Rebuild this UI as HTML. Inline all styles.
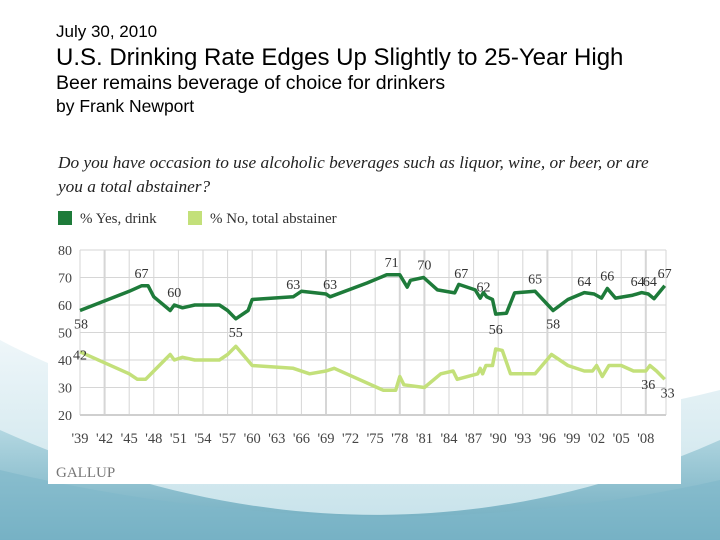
<!DOCTYPE html>
<html><head><meta charset="utf-8"><style>
body{margin:0;width:720px;height:540px;overflow:hidden;background:#fff;font-family:"Liberation Sans",sans-serif;position:relative}
.t{position:absolute;left:56px;color:#000;white-space:nowrap}
</style></head><body>
<svg width="720" height="540" style="position:absolute;left:0;top:0">
<defs>
<linearGradient id="bg1" x1="0" y1="0" x2="0" y2="1"><stop offset="0" stop-color="#eef6f9"/><stop offset="1" stop-color="#c4e1e9"/></linearGradient>
<linearGradient id="bg2" x1="0" y1="0" x2="0" y2="1"><stop offset="0" stop-color="#b3d7e1"/><stop offset="1" stop-color="#6aa9bd"/></linearGradient>
</defs>
<path d="M0 340 C150 420 400 470 720 390 L720 540 L0 540Z" fill="url(#bg1)"/>
<path d="M0 430 C200 520 450 560 720 440 L720 540 L0 540Z" fill="url(#bg2)"/>
<path d="M0 470 C250 530 500 530 720 480 L720 540 L0 540Z" fill="#7fb8c9" opacity="0.6"/>
</svg>
<div class="t" style="top:22px;font-size:17px">July 30, 2010</div>
<div class="t" style="top:44px;font-size:24px">U.S. Drinking Rate Edges Up Slightly to 25-Year High</div>
<div class="t" style="top:72px;font-size:19.5px">Beer remains beverage of choice for drinkers</div>
<div class="t" style="top:96px;font-size:17.5px">by Frank Newport</div>
<svg id="chart" width="633" height="336" style="position:absolute;left:48px;top:148px;background:#fff" viewBox="48 148 633 336"></svg>
<script>
const yesYears=[1939,1945,1946.5,1947.3,1948,1950,1950.5,1951.5,1953,1956,1957,1958,1959.5,1960,1965,1966,1969,1969.5,1974,1976.4,1978,1978.9,1979.3,1980.9,1982.6,1984.7,1985.2,1987.2,1987.8,1988.2,1988.6,1989.3,1989.7,1991,1992,1994.5,1996.7,1998.5,2000.5,2001.7,2002.6,2003.3,2004.3,2006.3,2007.5,2008.3,2009,2010.3];
const yesValues=[58,65,67,67,63,58,60,59,60,60,58,55,58,62,63,65,64,63,68,71,71,66.5,69,70,65.5,64.4,67.5,65.5,62.5,64.5,63,62,56.7,57,64.4,65,58,62,64.5,64,62.5,66,62.5,63.5,64.5,64,62.3,67];
const noYears=[1939,1945,1946,1947,1948,1950,1950.5,1951.5,1953,1956,1957,1958,1960,1965,1967,1969,1970,1976,1977.5,1978,1978.5,1981,1983,1984.5,1985,1987.5,1987.8,1988.1,1988.5,1989.3,1989.7,1990.5,1991.5,1994.5,1996.5,1998.5,2000.5,2001.5,2002,2002.7,2003.5,2005,2006.5,2008,2008.5,2009.3,2010.3];
const noValues=[43,35,33,33,36,42,40,41,40,40,42,45,38,37,35,36,37,29,29,34,31,30,35,36,33,35,37,35,38,38,44,43.5,35,35,42,38,36,36,38,34,38,38,36,36,38,36,33];
const yTicks=[80,70,60,50,40,30,20];
const xTickYears=[1939,1942,1945,1948,1951,1954,1957,1960,1963,1966,1969,1972,1975,1978,1981,1984,1987,1990,1993,1996,1999,2002,2005,2008];
const yesLabels=[[1939,58],[1946.5,67],[1950.5,60],[1958,55],[1965,63],[1969.5,63],[1977,71],[1981,70],[1985.5,67],[1988.2,62],[1989.7,56],[1994.5,65],[1996.7,58],[2000.5,64],[2003.3,66],[2007,64],[2008.5,64],[2010.3,67]];
const noLabels=[[1939,42],[2008.3,36],[2010.3,33]];
const svg=document.getElementById('chart');const NS='http://www.w3.org/2000/svg';
const X=y=>80+(y-1939)*8.2, Y=v=>250+(80-v)*2.75;
function mk(tag,at,txt){const e=document.createElementNS(NS,tag);for(const k in at)e.setAttribute(k,at[k]);if(txt!==undefined)e.textContent=txt;svg.appendChild(e);return e;}
const serif='"Liberation Serif",serif';
let q=mk('text',{x:58,y:168,'font-family':serif,'font-style':'italic','font-size':17.3,fill:'#222'},'Do you have occasion to use alcoholic beverages such as liquor, wine, or beer, or are');

q=mk('text',{x:58,y:192,'font-family':serif,'font-style':'italic','font-size':17.3,fill:'#222'},'you a total abstainer?');

let e=mk('rect',{x:58,y:211,width:14,height:14,fill:'#1e7b3a'});
e=mk('text',{x:80,y:223,'font-family':serif,'font-size':15,fill:'#333'},'% Yes, drink');
e=mk('rect',{x:188,y:211,width:14,height:14,fill:'#c3e07a'});
e=mk('text',{x:210,y:223,'font-family':serif,'font-size':15,fill:'#333'},'% No, total abstainer');
yTicks.forEach(v=>{e=mk('line',{x1:80,x2:666,y1:Y(v),y2:Y(v),stroke:'#d6d6d6','stroke-width':1});
e=mk('text',{x:58,y:Y(v)+5,'font-family':serif,'font-size':14,fill:'#444'},String(v));});
xTickYears.forEach(yr=>{e=mk('line',{x1:X(yr),x2:X(yr),y1:Y(80),y2:Y(20),stroke:'#d6d6d6','stroke-width':(yr==1978||yr==1981||yr==1996||yr==2008||yr==1969||yr==1942)?2:1});
e=mk('text',{x:X(yr),y:443,'text-anchor':'middle','font-family':serif,'font-size':14.5,fill:'#444'},"'"+String(yr).slice(2));});
e=mk('line',{x1:666,x2:666,y1:Y(80),y2:Y(20),stroke:'#d6d6d6'});
e=mk('line',{x1:80,x2:666,y1:Y(20),y2:Y(20),stroke:'#cfcfcf','stroke-width':2});
const pts=(xs,vs)=>xs.map((x,i)=>X(x).toFixed(1)+','+Y(vs[i]).toFixed(1)).join(' ');
e=mk('polyline',{points:pts(noYears,noValues),fill:'none',stroke:'#c3e07a','stroke-width':3.5,'stroke-linejoin':'round'});
e=mk('polyline',{points:pts(yesYears,yesValues),fill:'none',stroke:'#1e7b3a','stroke-width':3.5,'stroke-linejoin':'round'});
yesLabels.forEach(([yr,v])=>{const below=(v<=58);e=mk('text',{x:X(yr)+(yr==1939?-6:0),y:below?Y(v)+18:Y(v)-8,'text-anchor':yr==1939?'start':'middle','font-family':serif,'font-size':14,fill:'#333'},String(v));});
noLabels.forEach(([yr,v])=>{e=mk('text',{x:X(yr)+(yr==2010.3?3:0),y:Y(v)+(yr==1939?5:18),'text-anchor':'middle','font-family':serif,'font-size':14,fill:'#333'},String(v));});
e=mk('text',{x:56,y:477,'font-family':serif,'font-size':15,fill:'#777'},'GALLUP');
</script>
</body></html>
